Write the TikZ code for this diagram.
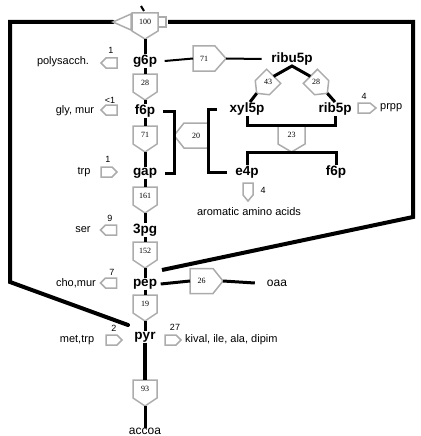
\documentclass[tikz,border=0pt]{standalone}
\usepackage{fontspec}
\setmainfont{Liberation Sans}
\newfontfamily\numfont{Liberation Serif}
\definecolor{boxgray}{RGB}{172,172,172}
\newcommand\enz[7]{%
  \begin{scope}[shift={(#2)},rotate=#3]
    \draw[enzb] (-#4,-#5) -- (#4,-#5) -- (#4,#5) -- (0,#5+#6) -- (-#4,#5) -- cycle;
    \node[enzt] (#1) at (0,0) {#7};
    \coordinate (#1-in) at (0,-#5);
    \coordinate (#1-out) at (0,#5+#6);
  \end{scope}}
\begin{document}
\begin{tikzpicture}[x=1pt,y=-1pt,
  metab/.style={font=\fontsize{13.5}{14}\selectfont\bfseries, inner sep=0.5pt},
  lbl/.style={font=\fontsize{11}{12}\selectfont, inner sep=0pt},
  numl/.style={font=\fontsize{9}{10}\selectfont, inner sep=0pt},
  enzt/.style={font=\numfont\fontsize{8}{9}\selectfont, inner sep=0pt},
  enzb/.style={draw=boxgray, line width=1.5pt, fill=white, line join=miter},
  conn/.style={line width=3pt},
  bigline/.style={line width=4pt, line join=miter},
]
\useasboundingbox (0,0) rectangle (420,436);

% metabolites
\node[metab] (g6p) at (145,61) {g6p};
\node[metab] (f6p) at (145,111) {f6p};
\node[metab] (gap) at (145,173) {gap};
\node[metab] (tpg) at (145,230) {3pg};
\node[metab] (pep) at (145,284) {pep};
\node[metab] (pyr) at (145,337) {pyr};
\node[lbl, font=\fontsize{12}{13}\selectfont] (accoa) at (145,431) {accoa};
\node[metab] (ribu) at (292,59) {ribu5p};
\node[metab] (xyl) at (247,109) {xyl5p};
\node[metab] (rib) at (335,109) {rib5p};
\node[metab] (e4p) at (247,172) {e4p};
\node[metab] (f6pb) at (336,172) {f6p};
\node[lbl, font=\fontsize{12}{13}\selectfont] (oaa) at (277,283) {oaa};

% PTS frame
\coordinate (ptsin) at (113,22);
\coordinate (ptsout) at (168,22);
\coordinate (pyrend) at (128,325);
\coordinate (pepend) at (162,270);
\draw[bigline, line cap=round] (ptsin) -- (10,22) -- (10,282) -- (pyrend);
\draw[bigline] (ptsout) -- (413,22) -- (413,217) -- (pepend);
\draw[line width=2pt] (141,6) -- (144,11);

% PTS box 100
\draw[enzb] (ptsin) -- (131,14) -- (131,30) -- cycle;
\draw[enzb] (157,17) rectangle (166,27);
\enz{e100}{145,22}{0}{13}{9}{8}{100}

% main column enzymes
\enz{e28}{145,83}{0}{12}{9}{8}{28}
\enz{e71}{145,135}{0}{12}{9}{8}{71}
\enz{e161}{145,196}{0}{12}{9}{8}{161}
\enz{e152}{145,251}{0}{12}{9}{8}{152}
\enz{e19}{145,304}{0}{12}{9}{8}{19}
\enz{e93}{145,389}{0}{12}{9}{8}{93}

% side enzymes
\enz{e71h}{204,58.5}{90}{12.5}{11}{11}{71}
\enz{e26}{201.5,281}{90}{12.5}{11.5}{10}{26}
\enz{e20}{196,135.5}{-90}{12.5}{12}{10}{20}
\enz{e23}{291.5,134.5}{0}{13.5}{9.5}{8}{23}
\enz{e43}{268,82}{-45}{10}{8}{8}{43}
\enz{e28b}{316,82}{45}{10}{8}{8}{28}

% small drain arrows
\enz{apoly}{111.5,63}{-90}{5}{5.5}{5}{}
\enz{agly}{111.5,110}{-90}{5}{5.5}{5}{}
\enz{atrp}{106.5,172}{90}{5}{5.5}{5}{}
\enz{aser}{111,230}{-90}{5}{5.5}{5}{}
\enz{acho}{111,283}{-90}{5}{5.5}{5}{}
\enz{amet}{111.5,340}{90}{5}{5.5}{5}{}
\enz{akiv}{170.5,340}{90}{5}{5.5}{5}{}
\enz{aprpp}{364,108}{90}{5}{6}{6}{}
\enz{aaro}{248,189}{0}{5}{6}{6}{}

% drain labels
\node[lbl] (polysacch) at (63,62) {polysacch.};
\node[lbl] (glymur) at (75,111) {gly, mur};
\node[lbl] (trp) at (84,172) {trp};
\node[lbl] (ser) at (83,230) {ser};
\node[lbl] (chomur) at (76,283) {cho,mur};
\node[lbl] (mettrp) at (77,340) {met,trp};
\node[lbl, anchor=west] (kival) at (185,340) {kival, ile, ala, dipim};
\node[lbl, anchor=west] (prpp) at (380,108) {prpp};
\node[lbl] (arom) at (249,212) {aromatic amino acids};

\node[numl] (n1) at (111,50) {1};
\node[numl] (n2) at (110,100) {<1};
\node[numl] (n3) at (108,159) {1};
\node[numl] (n4) at (110,218) {9};
\node[numl] (n5) at (112,272) {7};
\node[numl] (n6) at (114,328) {2};
\node[numl] (n7) at (175,327) {27};
\node[numl] (n8) at (364,96) {4};
\node[numl] (n9) at (263,190) {4};

% main column connectors
\draw[conn] (e100-out) -- (g6p.north);
\draw[conn] (g6p.south) -- (e28-in);
\draw[conn] (e28-out) -- (f6p.north);
\draw[conn] (f6p.south) -- (e71-in);
\draw[conn] (e71-out) -- (gap.north);
\draw[conn] (gap.south) -- (e161-in);
\draw[conn] (e161-out) -- (tpg.north);
\draw[conn] (tpg.south) -- (e152-in);
\draw[conn] (e152-out) -- (pep.north);
\draw[conn] (pep.south) -- (e19-in);
\draw[conn] (e19-out) -- (pyr.north);
\draw[line width=4pt] (pyr.south) -- (e93-in);
\draw[conn] (e93-out) -- (accoa.north);

% pentose phosphate
\draw[line width=2pt] ([xshift=7pt]g6p.east) -- (e71h-in);
\draw[line width=2pt] (e71h-out) -- ([xshift=-9pt]ribu.west);
\draw[conn] (e43-in) -- (ribu.south) -- (e28b-in);
\draw[conn] (e43-out) -- ([xshift=3pt]xyl.north);
\draw[conn] (e28b-out) -- (rib.north);
\draw[conn] (xyl.south) |- (e23-in) -| (rib.south);
\draw[conn] (e4p.north) |- (e23-out) -| (f6pb.north);
\draw[conn] ([xshift=7pt]f6p.east) -| (e20-out) |- ([xshift=7pt]gap.east);
\draw[conn] ([xshift=-12pt]xyl.west) -| (e20-in) |- ([xshift=-8pt]e4p.west);

% anaplerotic
\draw[conn] ([xshift=3pt]pep.east) -- (e26-in);
\draw[conn] (e26-out) -- ([xshift=-12pt]oaa.west);
\end{tikzpicture}
\end{document}
